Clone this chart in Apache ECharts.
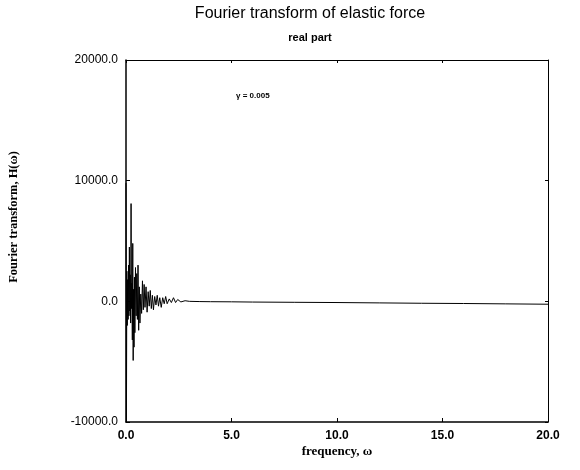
<!DOCTYPE html>
<html>
<head>
<meta charset="utf-8">
<script src="https://cdn.jsdelivr.net/npm/echarts@6/dist/echarts.min.js"></script>
<style>
  html, body { margin: 0; padding: 0; background: #fff; }
  #chart { width: 580px; height: 470px; }
</style>
</head>
<body>
<div id="chart"></div>
<script>
// Real part of the Fourier transform of the elastic force, damping 0.005
const omega = [
  0.00, 0.02, 0.04, 0.06, 0.08, 0.10, 0.12, 0.14, 0.16, 0.18,
  0.20, 0.22, 0.24, 0.26, 0.28, 0.30, 0.32, 0.34, 0.36, 0.38,
  0.40, 0.42, 0.45, 0.48, 0.51, 0.54, 0.57, 0.60, 0.63, 0.66,
  0.70, 0.74, 0.78, 0.82, 0.86, 0.90, 0.95, 1.00, 1.05, 1.10,
  1.15, 1.20, 1.25, 1.30, 1.36, 1.42, 1.48, 1.54, 1.60, 1.67,
  1.74, 1.81, 1.88, 1.95, 2.05, 2.15, 2.25, 2.35, 2.45, 2.60,
  2.80, 3.00, 3.5, 4, 5, 6, 8, 10, 12, 14, 16, 18, 20
];
const realPart = [
  9800, -9900, 2500, -2000, 1800, -1500, 3000, -1200, 4500, -800,
  2200, -1800, 8100, -600, 1500, -3200, 4800, -4900, 1000, -3800,
  2000, -2600, 2800, -1200, 2300, -1500, 3000, -2400, 1200, -1800,
  600, -1000, 1700, -700, 1400, -500, 1200, -900, 800, -400,
  900, -600, 500, -700, 400, -300, 500, -400, 300, -500,
  300, -200, 400, -200, 200, -100, 300, -100, 150, -50,
  50, 0, -20, -30, -40, -60, -80, -100, -130, -160, -180, -210, -240
];
const xTicks = [0, 5, 10, 15, 20];
const yTicks = [-10000, 0, 10000, 20000];
const titleText = 'Fourier transform of elastic force';
const subtitleText = 'real part';
const noteText = '\u03b3 = 0.005';
const xName = 'frequency, \u03c9';
const yName = 'Fourier transform, H(\u03c9)';

const points = omega.map((w, i) => [w, realPart[i]]);
const sans = 'Liberation Sans, Arial, sans-serif';
const serif = 'Liberation Serif, Times New Roman, serif';

const chart = echarts.init(document.getElementById('chart'), null, { renderer: 'canvas' });

// frame axes (top / right) carry ticks only
const frameAxis = {
  axisLine: { onZero: false, lineStyle: { color: '#000', width: 1 } },
  axisTick: { inside: true, length: 3, lineStyle: { color: '#000' } },
  axisLabel: { show: false },
  splitLine: { show: false }
};

chart.setOption({
  animation: false,
  backgroundColor: '#fff',
  grid: { left: 126, right: 32, top: 60, bottom: 48 },
  xAxis: [
    {
      type: 'value', min: xTicks[0], max: xTicks[xTicks.length - 1], interval: 5,
      axisLine: { onZero: false, lineStyle: { color: '#000', width: 1.5 } },
      axisTick: { inside: true, length: 4, lineStyle: { color: '#000' } },
      splitLine: { show: false },
      axisLabel: {
        color: '#000', fontFamily: sans, fontSize: 12, fontWeight: 'bold', margin: 8,
        formatter: v => v.toFixed(1)
      }
    },
    Object.assign({ type: 'value', position: 'top', min: 0, max: 20, interval: 5 }, frameAxis)
  ],
  yAxis: [
    {
      type: 'value', min: yTicks[0], max: yTicks[yTicks.length - 1], interval: 10000,
      axisLine: { onZero: false, lineStyle: { color: '#000', width: 1.5 } },
      axisTick: { inside: true, length: 4, lineStyle: { color: '#000' } },
      splitLine: { show: false },
      axisLabel: {
        color: '#000', fontFamily: sans, fontSize: 12, margin: 8,
        formatter: v => v.toFixed(1)
      }
    },
    Object.assign({ type: 'value', position: 'right', min: -10000, max: 20000, interval: 10000 }, frameAxis)
  ],
  series: [
    {
      type: 'line', data: points, showSymbol: false, symbol: 'none',
      lineStyle: { color: '#000', width: 1 },
      clip: true
    }
  ],
  graphic: [
    {
      type: 'text', x: 310, y: 6,
      style: { text: titleText, fill: '#000', font: '16px ' + sans, align: 'center' }
    },
    {
      type: 'text', x: 310, y: 32,
      style: { text: subtitleText, fill: '#000', font: 'bold 11px ' + sans, align: 'center' }
    },
    {
      type: 'text', x: 236, y: 92,
      style: { text: noteText, fill: '#000', font: 'bold 8px ' + sans }
    },
    {
      type: 'text', x: 337, y: 445,
      style: { text: xName, fill: '#000', font: 'bold 13px ' + serif, align: 'center' }
    },
    {
      type: 'text', x: 7, y: 217, rotation: Math.PI / 2,
      style: {
        text: yName, fill: '#000', font: 'bold 12.5px ' + serif,
        align: 'center', verticalAlign: 'top'
      }
    }
  ]
});
</script>
</body>
</html>
